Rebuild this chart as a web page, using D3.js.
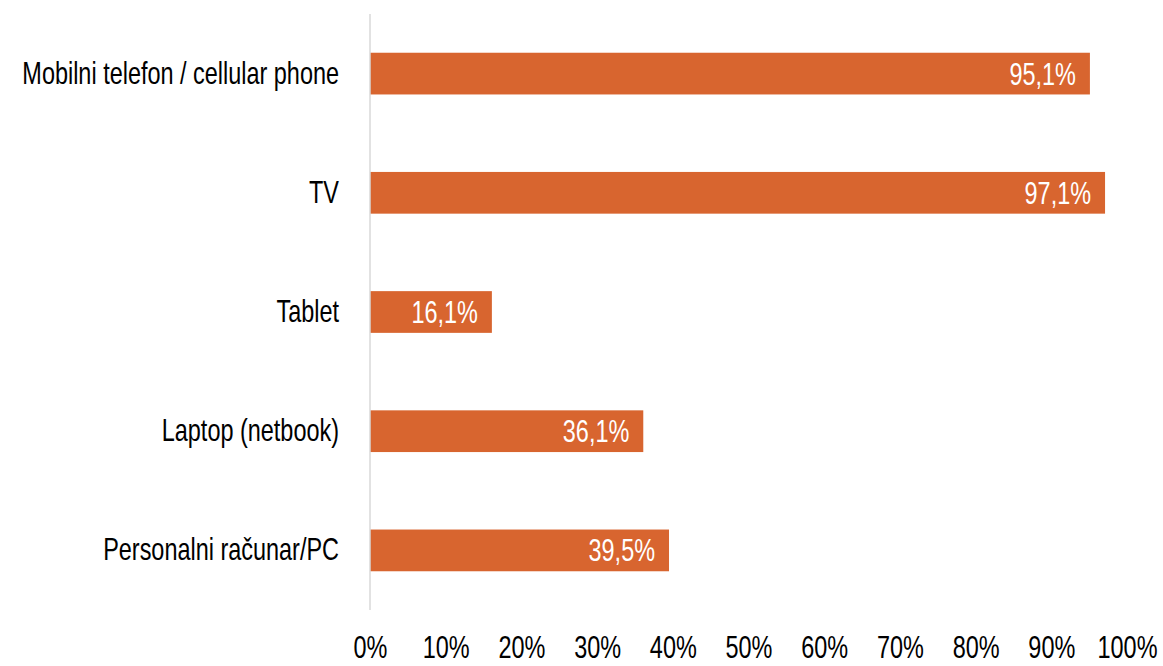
<!DOCTYPE html>
<html><head><meta charset="utf-8">
<script src="https://cdn.jsdelivr.net/npm/d3@7"></script>
<style>
html,body{margin:0;padding:0;background:#fff;}
svg{display:block;}
svg text{font-family:"Liberation Sans",Arial,sans-serif;}
</style></head>
<body>
<svg id="chart" width="1163" height="666"></svg>
<script>
const categories = ["Mobilni telefon / cellular phone","TV","Tablet","Laptop (netbook)","Personalni računar/PC"];
const values = [95.1, 97.1, 16.1, 36.1, 39.5];
const tickValues = [0,10,20,30,40,50,60,70,80,90,100];

const FS = 31;
const svg = d3.select("#chart");
const x = d3.scaleLinear().domain([0,100]).range([370,1127]);
const y = d3.scaleBand().domain(categories).range([14,610]).paddingInner(0.65).paddingOuter(0.325);
const fmt = v => v.toFixed(1).replace(".", ",") + "%";

// horizontal condensation factor to imitate the reference's condensed typeface
const probe = svg.append("text").attr("font-size", FS).text("Personalni računar/PC");
const SX = 236 / probe.node().getComputedTextLength();
probe.remove();

svg.append("g").selectAll("rect").data(categories).join("rect")
  .attr("x", x(0)).attr("y", d => y(d))
  .attr("width", (d,i) => x(values[i]) - x(0))
  .attr("height", y.bandwidth())
  .attr("fill", "#D8652F");

svg.append("line").attr("x1", x(0)).attr("x2", x(0)).attr("y1", 14).attr("y2", 610)
  .attr("stroke", "#d9d9d9").attr("stroke-width", 1.5);

const xAxis = svg.append("g").attr("transform", "translate(0,658)")
  .call(d3.axisBottom(x).tickValues(tickValues).tickSize(0).tickPadding(0).tickFormat(d => d + "%"));
xAxis.select(".domain").remove();
xAxis.attr("font-family", null).attr("font-size", null);
xAxis.selectAll("text").attr("font-size", FS).attr("fill", "#000")
  .attr("y", 0).attr("dy", 0).attr("transform", `scale(${SX},1)`);

const yAxis = svg.append("g").attr("transform", "translate(339,0)")
  .call(d3.axisLeft(y).tickSize(0).tickPadding(0));
yAxis.select(".domain").remove();
yAxis.attr("font-family", null).attr("font-size", null);
yAxis.selectAll("text").attr("font-size", FS).attr("fill", "#000")
  .attr("x", 0).attr("dy", 10).attr("transform", `scale(${SX},1)`);

svg.append("g").selectAll("g").data(categories).join("g")
  .attr("transform", (d,i) => `translate(${x(values[i]) - 14},${y(d) + y.bandwidth()/2 + 11})`)
  .append("text")
  .attr("text-anchor", "end")
  .attr("font-size", FS).attr("fill", "#fff")
  .attr("transform", `scale(${SX},1)`)
  .text((d,i) => fmt(values[i]));
</script>
</body></html>
